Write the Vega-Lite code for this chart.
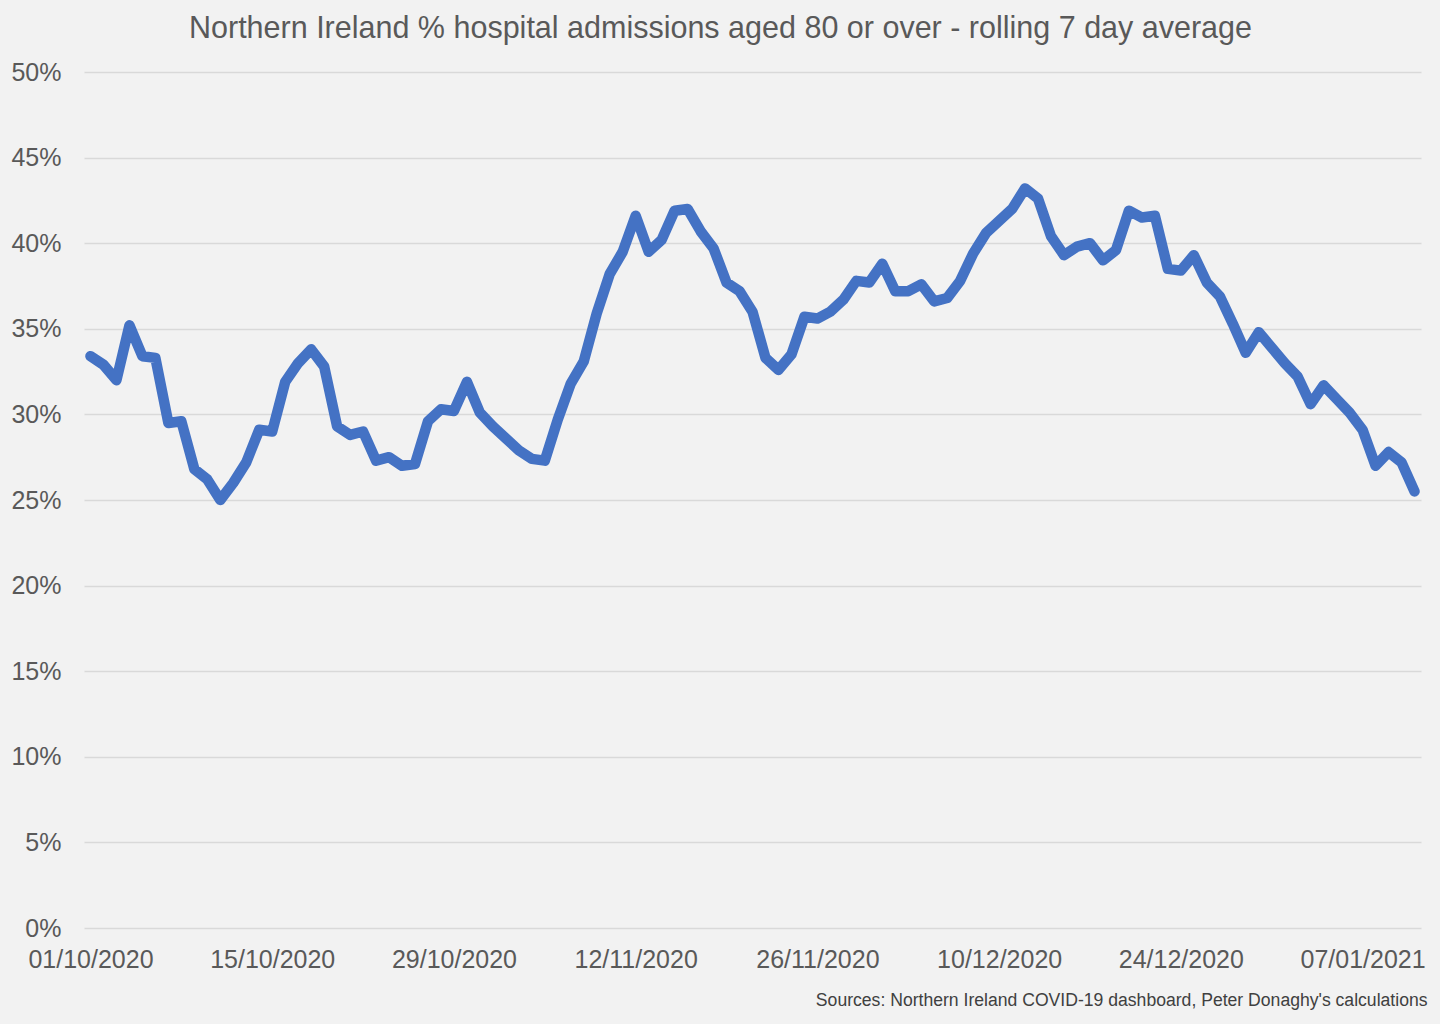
{
  "$schema": "https://vega.github.io/schema/vega-lite/v6.json",
  "description": "Northern Ireland % hospital admissions aged 80 or over - rolling 7 day average",
  "width": 1337,
  "height": 856,
  "autosize": "none",
  "padding": {"left": 84, "top": 72, "right": 19, "bottom": 96},
  "background": "#f2f2f2",
  "title": {
    "text": "Northern Ireland % hospital admissions aged 80 or over - rolling 7 day average",
    "frame": "group",
    "anchor": "middle",
    "dx": -32,
    "offset": 16,
    "font": "Liberation Sans",
    "fontSize": 30.5,
    "fontWeight": "normal",
    "color": "#595959"
  },
  "config": {
    "view": {"stroke": null},
    "font": "Liberation Sans"
  },
  "data": {
    "values": [
      {"date": "2020-10-01", "pct": 33.4},
      {"date": "2020-10-02", "pct": 32.9},
      {"date": "2020-10-03", "pct": 32.0},
      {"date": "2020-10-04", "pct": 35.2},
      {"date": "2020-10-05", "pct": 33.4},
      {"date": "2020-10-06", "pct": 33.3},
      {"date": "2020-10-07", "pct": 29.5},
      {"date": "2020-10-08", "pct": 29.6},
      {"date": "2020-10-09", "pct": 26.8},
      {"date": "2020-10-10", "pct": 26.2},
      {"date": "2020-10-11", "pct": 25.0},
      {"date": "2020-10-12", "pct": 26.0},
      {"date": "2020-10-13", "pct": 27.2},
      {"date": "2020-10-14", "pct": 29.1},
      {"date": "2020-10-15", "pct": 29.0},
      {"date": "2020-10-16", "pct": 31.9},
      {"date": "2020-10-17", "pct": 33.0},
      {"date": "2020-10-18", "pct": 33.8},
      {"date": "2020-10-19", "pct": 32.8},
      {"date": "2020-10-20", "pct": 29.3},
      {"date": "2020-10-21", "pct": 28.8},
      {"date": "2020-10-22", "pct": 29.0},
      {"date": "2020-10-23", "pct": 27.3},
      {"date": "2020-10-24", "pct": 27.5},
      {"date": "2020-10-25", "pct": 27.0},
      {"date": "2020-10-26", "pct": 27.1},
      {"date": "2020-10-27", "pct": 29.6},
      {"date": "2020-10-28", "pct": 30.3},
      {"date": "2020-10-29", "pct": 30.2},
      {"date": "2020-10-30", "pct": 31.9},
      {"date": "2020-10-31", "pct": 30.1},
      {"date": "2020-11-01", "pct": 29.3},
      {"date": "2020-11-02", "pct": 28.6},
      {"date": "2020-11-03", "pct": 27.9},
      {"date": "2020-11-04", "pct": 27.4},
      {"date": "2020-11-05", "pct": 27.3},
      {"date": "2020-11-06", "pct": 29.7},
      {"date": "2020-11-07", "pct": 31.8},
      {"date": "2020-11-08", "pct": 33.1},
      {"date": "2020-11-09", "pct": 35.9},
      {"date": "2020-11-10", "pct": 38.2},
      {"date": "2020-11-11", "pct": 39.5},
      {"date": "2020-11-12", "pct": 41.6},
      {"date": "2020-11-13", "pct": 39.5},
      {"date": "2020-11-14", "pct": 40.2},
      {"date": "2020-11-15", "pct": 41.9},
      {"date": "2020-11-16", "pct": 42.0},
      {"date": "2020-11-17", "pct": 40.7},
      {"date": "2020-11-18", "pct": 39.7},
      {"date": "2020-11-19", "pct": 37.7},
      {"date": "2020-11-20", "pct": 37.2},
      {"date": "2020-11-21", "pct": 36.0},
      {"date": "2020-11-22", "pct": 33.3},
      {"date": "2020-11-23", "pct": 32.6},
      {"date": "2020-11-24", "pct": 33.5},
      {"date": "2020-11-25", "pct": 35.7},
      {"date": "2020-11-26", "pct": 35.6},
      {"date": "2020-11-27", "pct": 36.0},
      {"date": "2020-11-28", "pct": 36.7},
      {"date": "2020-11-29", "pct": 37.8},
      {"date": "2020-11-30", "pct": 37.7},
      {"date": "2020-12-01", "pct": 38.8},
      {"date": "2020-12-02", "pct": 37.2},
      {"date": "2020-12-03", "pct": 37.2},
      {"date": "2020-12-04", "pct": 37.6},
      {"date": "2020-12-05", "pct": 36.6},
      {"date": "2020-12-06", "pct": 36.8},
      {"date": "2020-12-07", "pct": 37.8},
      {"date": "2020-12-08", "pct": 39.4},
      {"date": "2020-12-09", "pct": 40.6},
      {"date": "2020-12-10", "pct": 41.3},
      {"date": "2020-12-11", "pct": 42.0},
      {"date": "2020-12-12", "pct": 43.2},
      {"date": "2020-12-13", "pct": 42.6},
      {"date": "2020-12-14", "pct": 40.4},
      {"date": "2020-12-15", "pct": 39.3},
      {"date": "2020-12-16", "pct": 39.8},
      {"date": "2020-12-17", "pct": 40.0},
      {"date": "2020-12-18", "pct": 39.0},
      {"date": "2020-12-19", "pct": 39.6},
      {"date": "2020-12-20", "pct": 41.9},
      {"date": "2020-12-21", "pct": 41.5},
      {"date": "2020-12-22", "pct": 41.6},
      {"date": "2020-12-23", "pct": 38.5},
      {"date": "2020-12-24", "pct": 38.4},
      {"date": "2020-12-25", "pct": 39.3},
      {"date": "2020-12-26", "pct": 37.7},
      {"date": "2020-12-27", "pct": 36.9},
      {"date": "2020-12-28", "pct": 35.3},
      {"date": "2020-12-29", "pct": 33.6},
      {"date": "2020-12-30", "pct": 34.8},
      {"date": "2020-12-31", "pct": 33.9},
      {"date": "2021-01-01", "pct": 33.0},
      {"date": "2021-01-02", "pct": 32.2},
      {"date": "2021-01-03", "pct": 30.6},
      {"date": "2021-01-04", "pct": 31.7},
      {"date": "2021-01-05", "pct": 30.9},
      {"date": "2021-01-06", "pct": 30.1},
      {"date": "2021-01-07", "pct": 29.1},
      {"date": "2021-01-08", "pct": 27.0},
      {"date": "2021-01-09", "pct": 27.8},
      {"date": "2021-01-10", "pct": 27.2},
      {"date": "2021-01-11", "pct": 25.5}
    ]
  },
  "mark": {
    "type": "line",
    "color": "#4472c4",
    "strokeWidth": 10.5,
    "strokeCap": "round",
    "strokeJoin": "round"
  },
  "encoding": {
    "x": {
      "field": "date",
      "type": "temporal",
      "scale": {
        "type": "utc",
        "domain": [
          {"year": 2020, "month": 9, "date": 30, "hours": 12, "utc": true},
          {"year": 2021, "month": 1, "date": 11, "hours": 12, "utc": true}
        ]
      },
      "axis": {
        "title": "Sources: Northern Ireland COVID-19 dashboard, Peter Donaghy's calculations",
        "titleAnchor": "end",
        "titleAlign": "right",
        "titleFontSize": 17.6,
        "titleFontWeight": "normal",
        "titleColor": "#404040",
        "titlePadding": 19,
        "titleX": 1343,
        "values": [
          {"year": 2020, "month": 10, "date": 1, "utc": true},
          {"year": 2020, "month": 10, "date": 15, "utc": true},
          {"year": 2020, "month": 10, "date": 29, "utc": true},
          {"year": 2020, "month": 11, "date": 12, "utc": true},
          {"year": 2020, "month": 11, "date": 26, "utc": true},
          {"year": 2020, "month": 12, "date": 10, "utc": true},
          {"year": 2020, "month": 12, "date": 24, "utc": true},
          {"year": 2021, "month": 1, "date": 7, "utc": true}
        ],
        "format": "%d/%m/%Y",
        "grid": false,
        "ticks": false,
        "domain": false,
        "labelFontSize": 25,
        "labelColor": "#595959",
        "labelPadding": 19,
        "labelFlush": false,
        "labelOverlap": false
      }
    },
    "y": {
      "field": "pct",
      "type": "quantitative",
      "scale": {"domain": [0, 50], "nice": false},
      "axis": {
        "title": null,
        "values": [0, 5, 10, 15, 20, 25, 30, 35, 40, 45, 50],
        "labelExpr": "datum.value + '%'",
        "grid": true,
        "gridColor": "#d9d9d9",
        "gridWidth": 1.5,
        "ticks": false,
        "domain": false,
        "labelFontSize": 25,
        "labelColor": "#595959",
        "labelPadding": 23,
        "labelFlush": false
      }
    }
  }
}
